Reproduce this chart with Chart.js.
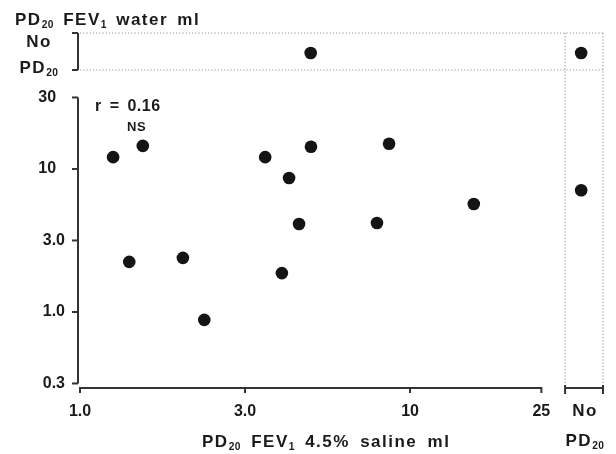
<!DOCTYPE html>
<html>
<head>
<meta charset="utf-8">
<script src="https://cdn.jsdelivr.net/npm/chart.js@4.4.1/dist/chart.umd.min.js"></script>
<style>
  body { margin: 0; background: #fff; }
  #wrap { position: relative; width: 616px; height: 454px; font-family: "Liberation Sans", Arial, sans-serif; font-weight: bold; color: #1a1a1a; }
  canvas { position: absolute; left: 0; top: 0; }
  .lbl { position: absolute; white-space: nowrap; line-height: 1; font-size: 17px; letter-spacing: 1.5px; word-spacing: 3px; }
  .lbl sub { font-size: 0.6em; vertical-align: -0.25em; line-height: 0; letter-spacing: 0.5px; }
</style>
</head>
<body>
<div id="wrap">
  <canvas id="grafico" width="616" height="454"></canvas>
  <div class="lbl" style="left:15px;top:11px;">PD<sub>20</sub> FEV<sub>1</sub> water ml</div>
  <div class="lbl" style="left:13px;top:29px;width:52px;text-align:center;line-height:26px;">No<br>PD<sub>20</sub></div>
  <div class="lbl" style="left:95px;top:98px;font-size:16px;letter-spacing:0.5px;">r = 0.16</div>
  <div class="lbl" style="left:127px;top:120px;font-size:13px;letter-spacing:0.5px;">NS</div>
  <div class="lbl" style="left:202px;top:433px;word-spacing:4px;">PD<sub>20</sub> FEV<sub>1</sub> 4.5% saline ml</div>
  <div class="lbl" style="left:560px;top:396px;width:50px;text-align:center;line-height:30px;">No<br>PD<sub>20</sub></div>
</div>
<script>
// PD20 FEV1, 4.5% saline (ml) and water (ml) for subjects who reached PD20 with both
const salineMl = [1.26, 1.55, 3.64, 4.30, 4.61, 1.41, 2.05, 4.09, 5.01, 8.64, 7.94, 15.6, 2.38]
const waterMl  = [12.1, 14.5, 12.1, 8.65, 4.12, 2.24, 2.39, 1.87, 14.3, 15.0, 4.19, 5.69, 0.88]
// no PD20 with water: saline value
const noWaterSalineMl = [5.0]
// no PD20 with saline: water value
const noSalineWaterMl = [7.1]
// no PD20 with either
const noBothCount = 1

const xTickValues = [1, Math.sqrt(10), 10, 25]
const xTickLabels = ['1.0', '3.0', '10', '25']
const yTickValues = [Math.sqrt(0.1), 1, Math.sqrt(10), 10, Math.sqrt(1000)]
const yTickLabels = ['0.3', '1.0', '3.0', '10', '30']

// where the "No PD20" strips sit on the log axes
const NO_PD20_X = 33
const NO_PD20_Y = 64.7
const STRIP_X = 29.5
const STRIP_Y = 49.2

const axesPlugin = {
  id: 'axes',
  afterDraw(chart) {
    const { ctx, chartArea: a, scales: { x, y } } = chart
    const line = (x1, y1, x2, y2) => { ctx.beginPath(); ctx.moveTo(x1, y1); ctx.lineTo(x2, y2); ctx.stroke() }
    ctx.save()
    ctx.strokeStyle = '#333'
    ctx.lineWidth = 2
    const ax = a.left - 2
    const yTop = y.getPixelForValue(yTickValues[yTickValues.length - 1])
    const yBot = y.getPixelForValue(yTickValues[0])
    line(ax, yTop, ax, yBot)
    yTickValues.forEach(v => { const p = y.getPixelForValue(v); line(ax - 6, p, ax, p) })
    const bx = a.bottom
    line(x.getPixelForValue(xTickValues[0]), bx, x.getPixelForValue(xTickValues[xTickValues.length - 1]), bx)
    xTickValues.forEach(v => { const p = x.getPixelForValue(v); line(p, bx - 1, p, bx + 5) })
    // solid bit under the right-hand strip
    const s0 = x.getPixelForValue(STRIP_X), s1 = a.right - 1
    line(s0, bx, s1, bx)
    line(s0, bx - 3, s0, bx + 6)
    line(s1, bx - 3, s1, bx + 6)
    // bracket for the top strip
    const t0 = a.top, t1 = y.getPixelForValue(STRIP_Y)
    line(ax, t0, ax, t1)
    line(ax - 6, t0, ax, t0)
    line(ax - 6, t1, ax, t1)
    // dotted strip borders
    ctx.setLineDash([1.2, 2])
    ctx.strokeStyle = '#9a9a9a'
    ctx.lineWidth = 1.2
    line(a.left, t0, a.right, t0)
    line(a.left, t1, a.right, t1)
    line(s0, t0, s0, yBot)
    line(s1, t0, s1, yBot)
    ctx.restore()
  }
}

const tickFont = { family: '"Liberation Sans", Arial, sans-serif', size: 16, weight: 'bold' }

const ctx = document.getElementById('grafico').getContext('2d')
const meuGrafico = new Chart(ctx, {
  type: 'scatter',
  data: {
    datasets: [
      { data: salineMl.map((v, i) => ({ x: v, y: waterMl[i] })) },
      { data: noWaterSalineMl.map(v => ({ x: v, y: NO_PD20_Y })) },
      { data: noSalineWaterMl.map(v => ({ x: NO_PD20_X, y: v })) },
      { data: Array.from({ length: noBothCount }, () => ({ x: NO_PD20_X, y: NO_PD20_Y })) }
    ]
  },
  options: {
    responsive: false,
    animation: false,
    devicePixelRatio: 1,
    layout: { padding: { top: 33, right: 12, left: 0, bottom: 0 } },
    elements: {
      point: { radius: 6.3, backgroundColor: '#141414', borderColor: '#141414', borderWidth: 0 }
    },
    scales: {
      x: {
        type: 'logarithmic',
        min: 1,
        max: 38.7,
        afterFit(s) { s.height = 66 },
        afterBuildTicks(s) { s.ticks = xTickValues.map(v => ({ value: v })) },
        grid: { display: false, drawTicks: false },
        border: { display: false },
        ticks: {
          autoSkip: false, maxRotation: 0, padding: 14,
          color: '#1a1a1a', font: tickFont,
          callback: (v, i) => xTickLabels[i]
        }
      },
      y: {
        type: 'logarithmic',
        min: 0.294,
        max: 89.3,
        afterFit(s) { s.width = 80 },
        afterBuildTicks(s) { s.ticks = yTickValues.map(v => ({ value: v })) },
        grid: { display: false, drawTicks: false },
        border: { display: false },
        ticks: {
          autoSkip: false, padding: 15,
          color: '#1a1a1a', font: tickFont,
          // whole numbers sit a digit further left, as in the original
          callback: (v, i) => yTickLabels[i].includes('.') ? yTickLabels[i] : yTickLabels[i] + '\u2007'
        }
      }
    },
    plugins: {
      legend: { display: false },
      tooltip: { enabled: false }
    }
  },
  plugins: [axesPlugin]
})
</script>
</body>
</html>
